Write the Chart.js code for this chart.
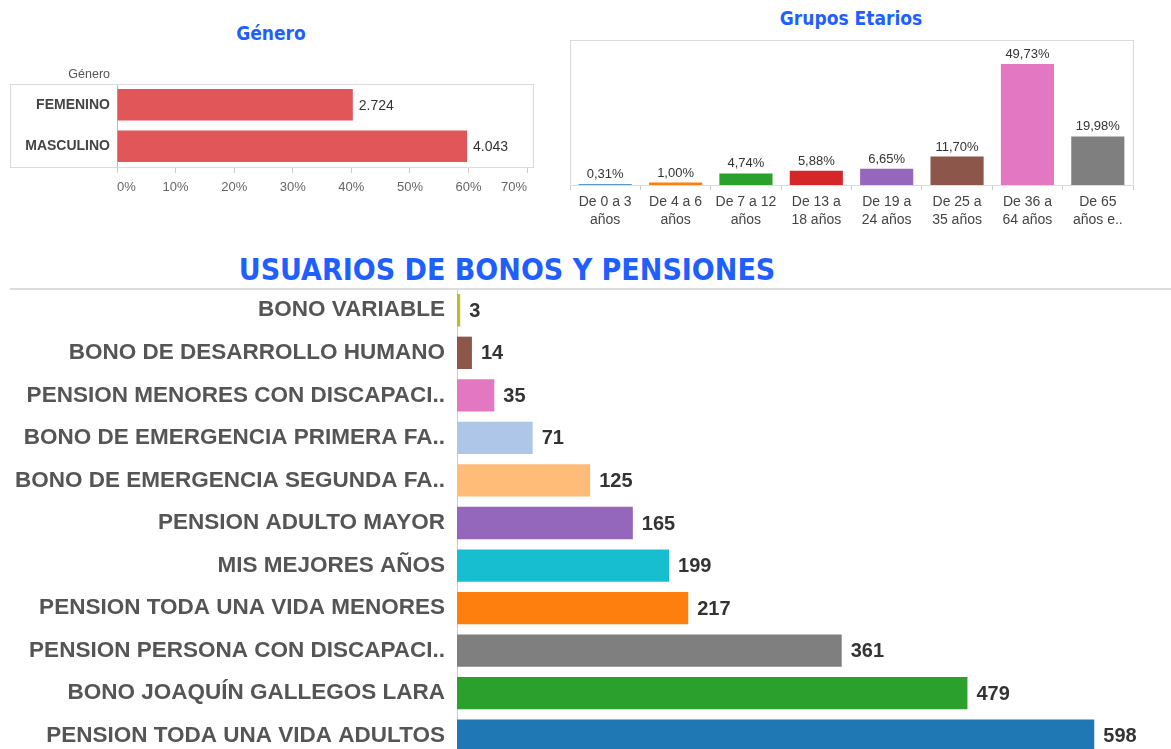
<!DOCTYPE html>
<html>
<head>
<meta charset="utf-8">
<script src="https://cdn.jsdelivr.net/npm/chart.js@4.4.1/dist/chart.umd.min.js"></script>
<style>
  body { margin: 0; width: 1171px; height: 749px; overflow: hidden; background: #fff; position: relative; }
  .box { position: absolute; }
  .title { position: absolute; text-align: center; color: #1f5eff; font-family: "DejaVu Sans Condensed", "DejaVu Sans", sans-serif; font-weight: bold; white-space: nowrap; }
</style>
</head>
<body>
<div class="title" style="left:171px;top:22px;width:200px;font-size:19px;line-height:22px;">Género</div>
<div class="title" style="left:751px;top:7px;width:200px;font-size:19px;line-height:22px;">Grupos Etarios</div>
<div class="title" style="left:157px;top:253px;width:700px;font-size:30px;line-height:34px;">USUARIOS DE BONOS Y PENSIONES</div>

<div class="box" style="left:0;top:60px;width:542px;height:150px;"><canvas id="genero"></canvas></div>
<div class="box" style="left:550px;top:30px;width:602px;height:205px;"><canvas id="edades"></canvas></div>
<div class="box" style="left:0;top:280px;width:1171px;height:477px;"><canvas id="bonos"></canvas></div>

<script>
// data
const genderLabels = ["FEMENINO", "MASCULINO"];
const genderShare = [40.25, 59.75];
const genderCounts = ["2.724", "4.043"];
const genderTicks = [0, 10, 20, 30, 40, 50, 60, 70];

const ageLabels = [
  ["De 0 a 3", "años"], ["De 4 a 6", "años"], ["De 7 a 12", "años"], ["De 13 a", "18 años"],
  ["De 19 a", "24 años"], ["De 25 a", "35 años"], ["De 36 a", "64 años"], ["De 65", "años e.."],
];
const ageShare = [0.31, 1.00, 4.74, 5.88, 6.65, 11.70, 49.73, 19.98];
const ageColors = ["#1f77b4", "#ff7f0e", "#2ca02c", "#d62728", "#9467bd", "#8c564b", "#e377c2", "#7f7f7f"];

const bonoLabels = [
  "BONO VARIABLE", "BONO DE DESARROLLO HUMANO", "PENSION MENORES CON DISCAPACI..",
  "BONO DE EMERGENCIA PRIMERA FA..", "BONO DE EMERGENCIA SEGUNDA FA..", "PENSION ADULTO MAYOR",
  "MIS MEJORES AÑOS", "PENSION TODA UNA VIDA MENORES", "PENSION PERSONA CON DISCAPACI..",
  "BONO JOAQUÍN GALLEGOS LARA", "PENSION TODA UNA VIDA ADULTOS",
];
const bonoValues = [3, 14, 35, 71, 125, 165, 199, 217, 361, 479, 598];
const bonoColors = ["#bcbd22", "#8c564b", "#e377c2", "#aec7e8", "#ffbb78", "#9467bd",
  "#17becf", "#ff7f0e", "#7f7f7f", "#2ca02c", "#1f77b4"];

const FONT = "'Liberation Sans', Arial, sans-serif";
Chart.defaults.font.family = FONT;
Chart.defaults.animation = false;
Chart.defaults.maintainAspectRatio = false;
Chart.defaults.plugins.legend.display = false;
Chart.defaults.plugins.tooltip.enabled = false;

// value labels at the end of each bar
const barValues = {
  id: "barValues",
  afterDatasetsDraw(chart, args, opts) {
    const ctx = chart.ctx;
    const horizontal = chart.options.indexAxis === "y";
    ctx.save();
    ctx.font = opts.font;
    ctx.fillStyle = opts.color;
    chart.getDatasetMeta(0).data.forEach((bar, i) => {
      const text = opts.text(i);
      if (horizontal) {
        ctx.textAlign = "left";
        ctx.textBaseline = "middle";
        ctx.fillText(text, bar.x + opts.offset, bar.y + 1);
      } else {
        ctx.textAlign = "center";
        ctx.textBaseline = "alphabetic";
        ctx.fillText(text, bar.x, bar.y - opts.offset);
      }
    });
    ctx.restore();
  },
};

// light frame around the plot, like the dashboard
const frame = {
  id: "frame",
  beforeDatasetsDraw(chart, args, opts) {
    if (!opts.mode) return;
    const { ctx, chartArea } = chart;
    ctx.save();
    ctx.strokeStyle = opts.color;
    ctx.lineWidth = opts.width || 1;
    if (opts.mode === "box") {
      const left = opts.fromX !== undefined ? opts.fromX : chartArea.left;
      ctx.strokeRect(left + 0.5, chartArea.top + 0.5, chartArea.right - left, chartArea.bottom - chartArea.top);
    } else if (opts.mode === "top") {
      ctx.beginPath();
      ctx.moveTo(opts.fromX, chartArea.top);
      ctx.lineTo(chart.width, chartArea.top);
      ctx.stroke();
    }
    if (opts.header) {
      ctx.font = "12.5px " + FONT;
      ctx.fillStyle = "#555";
      ctx.textAlign = "right";
      ctx.textBaseline = "middle";
      ctx.fillText(opts.header, chartArea.left - 7, chartArea.top - 9);
    }
    ctx.restore();
  },
};
Chart.register(barValues, frame);

const noPadY = (s) => { s.paddingTop = 0; s.paddingBottom = 0; };

new Chart(document.getElementById("genero"), {
  type: "bar",
  data: {
    labels: genderLabels,
    datasets: [{ data: genderShare, backgroundColor: "#e15759", barPercentage: 0.76, categoryPercentage: 1 }],
  },
  options: {
    indexAxis: "y",
    layout: { padding: { top: 24, right: 9, left: 0, bottom: 0 } },
    scales: {
      x: {
        min: 0, max: 71,
        afterBuildTicks: (s) => { s.ticks = genderTicks.map((v) => ({ value: v })); },
        afterFit: (s) => { s.height = 43; },
        ticks: { color: "#666", font: { size: 13 }, padding: 7, align: "inner", callback: (v) => v + "%" },
        grid: { drawOnChartArea: false, tickLength: 6, color: "#ccc" },
        border: { color: "#ccc" },
      },
      y: {
        afterFit: (s) => { s.width = 117; noPadY(s); },
        ticks: { color: "#444", font: { size: 14, weight: "bold" }, padding: 7 },
        grid: { display: false, drawTicks: false, tickLength: 0 },
        border: { color: "#bbb" },
      },
    },
    plugins: {
      barValues: { font: "14px " + FONT, color: "#333", offset: 6, text: (i) => genderCounts[i] },
      frame: { mode: "box", fromX: 10, color: "#dcdcdc", header: "Género" },
    },
  },
});

new Chart(document.getElementById("edades"), {
  type: "bar",
  data: {
    labels: ageLabels,
    datasets: [{ data: ageShare, backgroundColor: ageColors, barPercentage: 0.755, categoryPercentage: 1 }],
  },
  options: {
    layout: { padding: { top: 10, left: 20, right: 19, bottom: 0 } },
    scales: {
      x: {
        afterFit: (s) => { s.height = 50; },
        ticks: { color: "#444", font: { size: 14, lineHeight: 1.3 }, padding: 3, maxRotation: 0 },
        grid: { offset: true, drawOnChartArea: false, tickLength: 5, color: "#ccc" },
        border: { color: "#bbb" },
      },
      y: { display: false, min: 0, max: 59.6 },
    },
    plugins: {
      barValues: {
        font: "13px " + FONT, color: "#333", offset: 6,
        text: (i) => ageShare[i].toFixed(2).replace(".", ",") + "%",
      },
      frame: { mode: "box", color: "#dcdcdc" },
    },
  },
});

new Chart(document.getElementById("bonos"), {
  type: "bar",
  data: {
    labels: bonoLabels,
    datasets: [{ data: bonoValues, backgroundColor: bonoColors, barPercentage: 0.76, categoryPercentage: 1 }],
  },
  options: {
    indexAxis: "y",
    layout: { padding: { top: 9, left: 0, right: 0, bottom: 0 } },
    scales: {
      x: { display: false, min: 0, max: 670 },
      y: {
        afterFit: (s) => { s.width = 457; noPadY(s); },
        ticks: { color: "#555", font: { size: 22.5, weight: "bold" }, padding: 12 },
        grid: { display: false, drawTicks: false, tickLength: 0 },
        border: { color: "#ccc" },
      },
    },
    plugins: {
      barValues: { font: "bold 20px " + FONT, color: "#333", offset: 9, text: (i) => String(bonoValues[i]) },
      frame: { mode: "top", fromX: 10, color: "#ddd", width: 2 },
    },
  },
});
</script>
</body>
</html>
